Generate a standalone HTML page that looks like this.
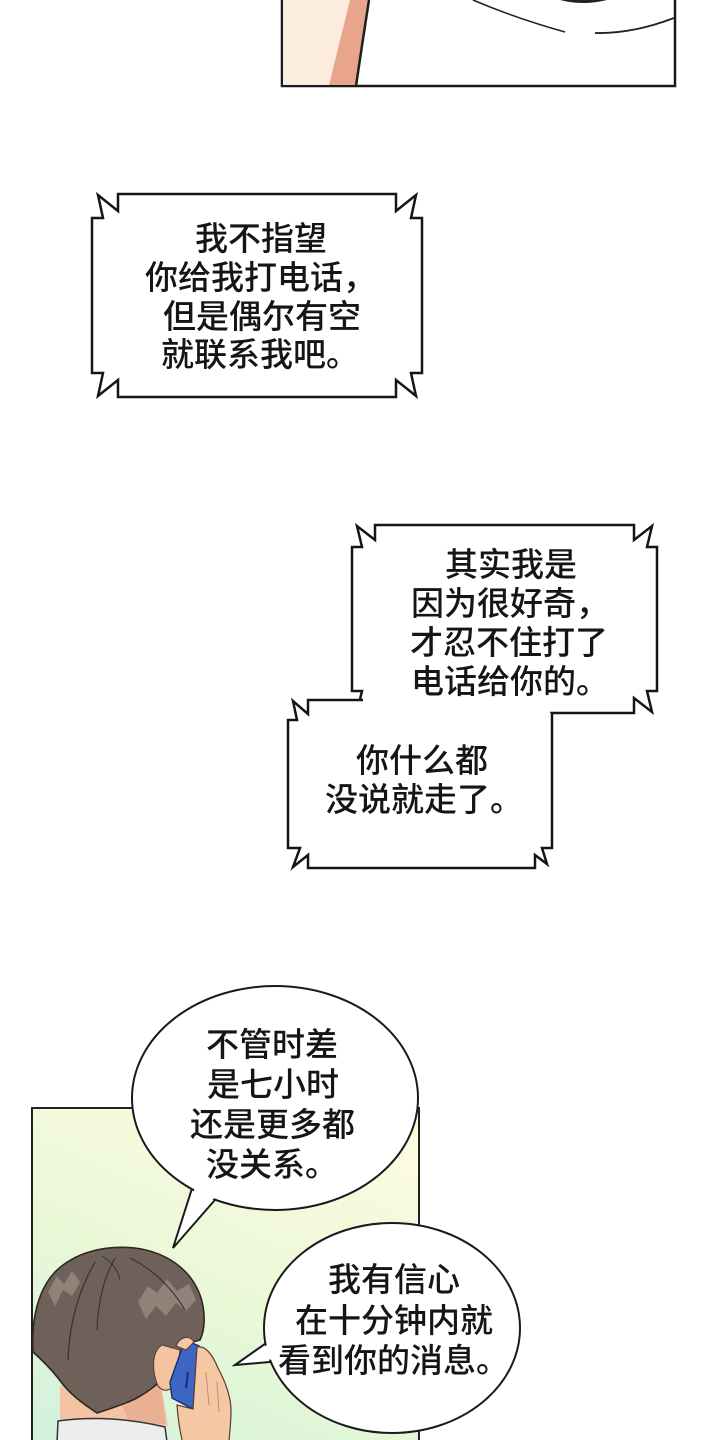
<!DOCTYPE html>
<html>
<head>
<meta charset="utf-8">
<style>
  html, body { margin: 0; padding: 0; }
  body { width: 720px; height: 1440px; position: relative; overflow: hidden; background: #ffffff; }
  svg { position: absolute; left: 0; top: 0; }
  .t {
    position: absolute;
    font-family: "Liberation Sans", "Noto Sans CJK SC", sans-serif;
    font-size: 33px;
    font-weight: 500;
    line-height: 40px;
    height: 40px;
    color: #151515;
    white-space: nowrap;
    letter-spacing: 0;
  }
</style>
</head>
<body>
<svg width="720" height="1440" viewBox="0 0 720 1440" xmlns="http://www.w3.org/2000/svg">
  <defs>
    <linearGradient id="bg" x1="0.7" y1="0" x2="0.2" y2="1">
      <stop offset="0" stop-color="#fbfbe0"/>
      <stop offset="0.55" stop-color="#e9f8d6"/>
      <stop offset="1" stop-color="#d4f2dc"/>
    </linearGradient>
  </defs>

  <!-- ===== Top panel ===== -->
  <rect x="282" y="-6" width="393" height="92" fill="#ffffff" stroke="#1a1a1a" stroke-width="2.5"/>
  <polygon points="283,0 350,0 329,85 283,85" fill="#fcecdd"/>
  <polygon points="350,0 368,0 356,85 329,85" fill="#e8a58c"/>
  <path d="M369,0 Q362,45 356,86" fill="none" stroke="#1e1e1e" stroke-width="2.5"/>
  <path d="M473,0 Q515,18 565,32" fill="none" stroke="#222" stroke-width="1.6"/>
  <path d="M595,33 Q632,34 674,18" fill="none" stroke="#222" stroke-width="1.8"/>
  <path d="M560,0 Q583,6 607,0 Z" fill="#222"/>

  <!-- ===== Bubble 1 (spiky box) ===== -->
  <path d="M92,218 L103,218 L98,195 L118,211 L118,194 L396,194 L396,211 L416,195 L411,218 L422,218 L422,373 L411,373 L416,396 L396,380 L396,397 L118,397 L118,380 L98,396 L103,373 L92,373 Z"
        fill="#ffffff" stroke="#151515" stroke-width="2.5" stroke-linejoin="miter"/>

  <!-- ===== Bubble 2 upper box ===== -->
  <path d="M352,547 L362,547 L357,526 L375,540 L375,525 L634,525 L634,540 L652,526 L647,547 L657,547 L657,691 L647,691 L652,712 L634,698 L634,713 L375,713 L375,698 L357,712 L362,691 L352,691 Z"
        fill="#ffffff" stroke="#151515" stroke-width="2.5"/>
  <!-- lower box (open path) -->
  <path d="M363,700 L308,700 L308,714 L293,701 L297,720 L288,720 L288,848 L300,848 L293,867 L308,855 L308,868 L535,868 L535,855 L547,864 L542,848 L552,848 L552,713"
        fill="#ffffff" stroke="#151515" stroke-width="2.5"/>
  <rect x="364" y="686" width="186" height="27" fill="#ffffff"/>

  <!-- ===== Bottom panel ===== -->
  <rect x="32" y="1108" width="387" height="345" fill="url(#bg)" stroke="#222" stroke-width="2"/>

  <!-- character -->
  <path d="M60,1386 L158,1366 L168,1426 L60,1428 Z" fill="#f3c3a2"/>
  <path d="M120,1400 L158,1368 L166,1424 L130,1424 Z" fill="#eab093"/>
  <path d="M57,1442 L58,1421 Q110,1414 165,1427 L167,1442 Z" fill="#ededed" stroke="#333" stroke-width="1.5"/>
  <path d="M33,1352 C31,1320 38,1290 55,1272 C75,1252 105,1245 135,1248 C165,1252 190,1268 200,1295 C206,1312 205,1330 200,1340 L186,1344 C178,1365 160,1386 135,1399 C120,1406 106,1410 97,1413 C85,1405 70,1395 58,1378 C50,1368 42,1360 33,1352 Z"
        fill="#6d6159" stroke="#2e2622" stroke-width="1.6"/>
  <path d="M48,1292 L57,1276 L64,1284 L72,1271 L80,1282 L72,1296 L63,1290 L55,1306 Z" fill="#8f8279"/>
  <path d="M138,1302 L148,1286 L157,1293 L167,1279 L177,1291 L189,1284 L196,1300 L186,1311 L176,1303 L166,1316 L156,1306 L146,1319 Z" fill="#8f8279"/>
  <path d="M95,1262 C85,1280 70,1310 68,1360" fill="none" stroke="#3a302a" stroke-width="1.2"/>
  <path d="M115,1258 C105,1275 98,1300 97,1330" fill="none" stroke="#3a302a" stroke-width="1.1"/>
  <path d="M130,1258 C150,1268 170,1285 185,1310" fill="none" stroke="#3a302a" stroke-width="1.1"/>
  <path d="M102,1256 C112,1262 118,1270 120,1280" fill="none" stroke="#3a302a" stroke-width="1"/>
  <path d="M162,1345 C151,1352 152,1372 158,1386 C165,1394 173,1390 176,1380 L180,1350 Z" fill="#f3c3a2" stroke="#5a3a2a" stroke-width="1"/>
  <polygon points="170,1382 185,1340 199,1346 193,1409 172,1398" fill="#3d66c4" stroke="#1c2d6c" stroke-width="1.4"/>
  <path d="M188,1372 L186,1388" stroke="#1c2d6c" stroke-width="2"/>
  <path d="M197,1347 C206,1345 213,1356 218,1368 C225,1381 231,1396 231,1411 C231,1425 229,1436 229,1444 L183,1444 C180,1432 178,1420 177,1405 L193,1409 Z"
        fill="#f6c7a4" stroke="#5a3a2a" stroke-width="1.2"/>
  <path d="M176,1346 C180,1336 190,1335 194,1342 L186,1350 Z" fill="#f6c7a4" stroke="#5a3a2a" stroke-width="1"/>
  <path d="M206,1372 L209,1405 M217,1382 L219,1412" stroke="#c98b6a" stroke-width="1"/>

  <!-- bubble ellipse 1 with tail -->
  <polygon points="173,1248 196,1176 221,1193" fill="#ffffff" stroke="#1a1a1a" stroke-width="2"/>
  <ellipse cx="275" cy="1098" rx="143" ry="112" fill="#ffffff" stroke="#1a1a1a" stroke-width="2"/>
  <polygon points="192.6,1195 197.4,1180 221.2,1190 209.9,1203" fill="#ffffff"/>

  <!-- bubble ellipse 2 with tail -->
  <polygon points="235,1365 274,1337.5 281,1361" fill="#ffffff" stroke="#1a1a1a" stroke-width="2"/>
  <ellipse cx="392" cy="1328" rx="128" ry="105" fill="#ffffff" stroke="#1a1a1a" stroke-width="2"/>
  <polygon points="261.4,1348.8 272.2,1341.1 279.4,1358.9 268.3,1359.8" fill="#ffffff"/>
</svg>

<div class="t" style="left:195px; top:219px;">我不指望</div>
<div class="t" style="left:145px; top:258px;">你给我打电话，</div>
<div class="t" style="left:163px; top:297px;">但是偶尔有空</div>
<div class="t" style="left:161px; top:335px;">就联系我吧。</div>

<div class="t" style="left:445px; top:545px;">其实我是</div>
<div class="t" style="left:411px; top:584px;">因为很好奇，</div>
<div class="t" style="left:410px; top:623px;">才忍不住打了</div>
<div class="t" style="left:411px; top:662px;">电话给你的。</div>

<div class="t" style="left:356px; top:741px;">你什么都</div>
<div class="t" style="left:325px; top:780px;">没说就走了。</div>

<div class="t" style="left:206px; top:1025px;">不管时差</div>
<div class="t" style="left:207px; top:1065px;">是七小时</div>
<div class="t" style="left:190px; top:1105px;">还是更多都</div>
<div class="t" style="left:206px; top:1145px;">没关系。</div>

<div class="t" style="left:328px; top:1260px;">我有信心</div>
<div class="t" style="left:295px; top:1301px;">在十分钟内就</div>
<div class="t" style="left:278px; top:1341px;">看到你的消息。</div>
</body>
</html>
